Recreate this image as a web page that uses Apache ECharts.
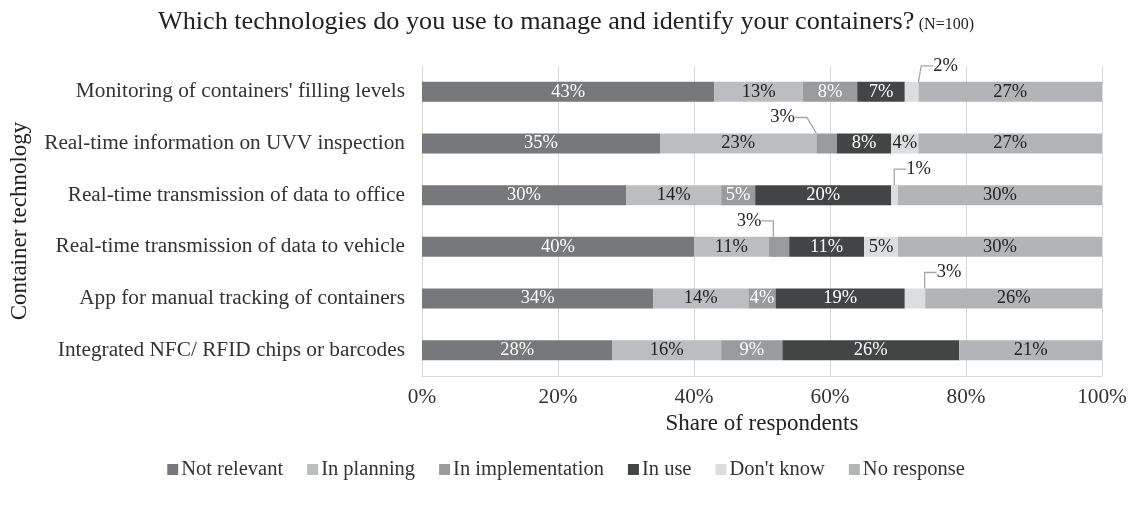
<!DOCTYPE html>
<html>
<head>
<meta charset="utf-8">
<script src="https://cdn.jsdelivr.net/npm/echarts@6/dist/echarts.min.js"></script>
<style>html,body{margin:0;padding:0;background:#fff}#c{width:1132px;height:511px}</style>
</head>
<body>
<div id="c"></div>
<script>
const categories = [
  "Monitoring of containers' filling levels",
  "Real-time information on UVV inspection",
  "Real-time transmission of data to office",
  "Real-time transmission of data to vehicle",
  "App for manual tracking of containers",
  "Integrated NFC/ RFID chips or barcodes"
];
const seriesNames = ["Not relevant", "In planning", "In implementation", "In use", "Don't know", "No response"];
const notRelevant = [43, 35, 30, 40, 34, 28];
const inPlanning = [13, 23, 14, 11, 14, 16];
const inImplementation = [8, 3, 5, 3, 4, 9];
const inUse = [7, 8, 20, 11, 19, 26];
const dontKnow = [2, 4, 1, 5, 3, 0];
const noResponse = [27, 27, 30, 30, 26, 21];
const xTicks = [0, 20, 40, 60, 80, 100];

const values = [notRelevant, inPlanning, inImplementation, inUse, dontKnow, noResponse];
const colors = ['#77787b', '#bcbdc0', '#9a9b9e', '#434446', '#dcdddf', '#b3b4b7'];
const labelColors = ['#ffffff', '#222222', '#ffffff', '#ffffff', '#222222', '#222222'];
const FONT = '"Liberation Serif", "DejaVu Serif", serif';

// callout offsets: [seriesIndex][dataIndex] -> [dx, dy]
const callouts = {
  2: {1: [-44, -26], 3: [-30, -26]},
  4: {0: [34, -26], 2: [24, -26], 4: [34, -26]}
};

const series = values.map((arr, si) => ({
  name: seriesNames[si],
  type: 'bar',
  stack: 'total',
  barWidth: 20,
  itemStyle: {color: colors[si]},
  label: {
    show: true,
    position: 'inside',
    fontFamily: FONT,
    fontSize: 18.5,
    color: labelColors[si],
    formatter: p => p.value > 0 ? p.value + '%' : ''
  },
  labelLine: {show: true, length2: 12, lineStyle: {color: '#a6a6a6', width: 1.3}},
  labelLayout: function (p) {
    const c = callouts[si] && callouts[si][p.dataIndex];
    if (c) return {dx: c[0], dy: c[1]};
    return {};
  },
  data: arr.map((v, di) => {
    const c = callouts[si] && callouts[si][di];
    if (c) return {value: v, label: {color: '#222222'}};
    return {value: v, labelLine: {show: false}};
  })
}));

const chart = echarts.init(document.getElementById('c'));
chart.setOption({
  animation: false,
  textStyle: {fontFamily: FONT},
  title: {
    text: '{a|Which technologies do you use to manage and identify your containers?} {b|(N=100)}',
    left: 'center',
    top: 4,
    textStyle: {
      fontWeight: 'normal',
      rich: {
        a: {fontFamily: FONT, fontSize: 26.2, color: '#222', fontWeight: 'normal'},
        b: {fontFamily: FONT, fontSize: 16, color: '#222', fontWeight: 'normal', padding: [6, 0, 0, 0]}
      }
    }
  },
  legend: {
    data: seriesNames,
    top: 454,
    left: 'center',
    itemWidth: 11,
    itemHeight: 11,
    itemGap: 24,
    icon: 'rect',
    textStyle: {fontFamily: FONT, fontSize: 20.5, color: '#333', padding: [0, 0, 0, -2]}
  },
  grid: {left: 420, right: 30, top: 66, bottom: 135, containLabel: false},
  xAxis: {
    type: 'value',
    min: 0,
    max: 100,
    interval: 20,
    axisLabel: {formatter: v => xTicks.includes(v) ? v + '%' : '', fontFamily: FONT, fontSize: 21.3, color: '#333', margin: 11},
    axisLine: {show: true, lineStyle: {color: '#d9d9d9'}},
    axisTick: {show: false},
    splitLine: {show: true, lineStyle: {color: '#d9d9d9', width: 1}},
    name: 'Share of respondents',
    nameLocation: 'middle',
    nameGap: 35,
    nameTextStyle: {fontFamily: FONT, fontSize: 23, color: '#222'}
  },
  yAxis: {
    type: 'category',
    inverse: true,
    data: categories,
    axisLabel: {fontFamily: FONT, fontSize: 21.3, color: '#333', margin: 17},
    axisLine: {show: true, lineStyle: {color: '#d9d9d9'}},
    axisTick: {show: false},
    name: 'Container technology',
    nameLocation: 'middle',
    nameGap: 391,
    nameRotate: 90,
    nameTextStyle: {fontFamily: FONT, fontSize: 23, color: '#222'}
  },
  series: series
});
</script>
</body>
</html>
